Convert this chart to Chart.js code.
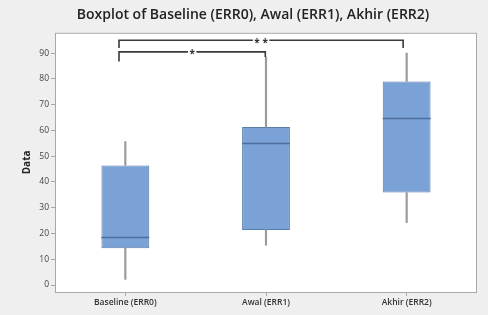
<!DOCTYPE html>
<html>
<head>
<meta charset="utf-8">
<script src="https://cdn.jsdelivr.net/npm/chart.js@4.4.1/dist/chart.umd.min.js"></script>
<style>
  html, body { margin: 0; padding: 0; background: #efefef; }
  #wrap { width: 488px; height: 315px; }
</style>
</head>
<body>
<div id="wrap"><canvas id="myChart"></canvas></div>
<script>
// values
var categories = ['Baseline (ERR0)', 'Awal (ERR1)', 'Akhir (ERR2)']
var whiskerLow = [2.2, 15.5, 24.2]
var q1 = [14.3, 21.4, 35.9]
var median = [18.8, 55.0, 64.8]
var q3 = [46.4, 61.3, 79.0]
var whiskerHigh = [55.7, 88.5, 90.0]

// significance brackets
var bracketFrom = [-0.045, -0.045]
var bracketTo = [1.975, 0.995]
var bracketY = [95.0, 90.5]
var bracketLeftEnd = [92.0, 86.8]
var bracketRightEnd = [92.0, 88.5]
var bracketLabel = ['* *', '*']

var boxPlugin = {
  id: 'boxExtras',
  beforeDraw: function(chart) {
    var ctx = chart.ctx, a = chart.chartArea
    ctx.save()
    ctx.fillStyle = '#efefef'
    ctx.fillRect(0, 0, chart.width, chart.height)
    ctx.fillStyle = '#ffffff'
    ctx.fillRect(a.left, a.top, a.right - a.left, a.bottom - a.top)
    ctx.strokeStyle = '#a8a8a8'
    ctx.lineWidth = 1
    ctx.strokeRect(a.left + 0.5, a.top + 0.5, a.right - a.left - 1, a.bottom - a.top)
    ctx.restore()
  },
  afterDatasetsDraw: function(chart) {
    var ctx = chart.ctx
    var x = chart.scales.x, y = chart.scales.y
    var meta = chart.getDatasetMeta(2)
    ctx.save()
    // medians
    ctx.strokeStyle = '#4d6d9c'
    ctx.lineWidth = 1.5
    meta.data.forEach(function(bar, i) {
      var py = Math.round(y.getPixelForValue(median[i])) + 0.5
      ctx.beginPath()
      ctx.moveTo(bar.x - bar.width / 2, py)
      ctx.lineTo(bar.x + bar.width / 2, py)
      ctx.stroke()
    })
    // brackets
    ctx.strokeStyle = '#3a3a3a'
    ctx.lineWidth = 1.6
    ctx.font = 'bold 10px "Open Sans"'
    ctx.textAlign = 'center'
    ctx.textBaseline = 'middle'
    bracketY.forEach(function(v, i) {
      var x0 = x.getPixelForValue(bracketFrom[i])
      var x1 = x.getPixelForValue(bracketTo[i])
      var py = y.getPixelForValue(v)
      ctx.beginPath()
      ctx.moveTo(x0, y.getPixelForValue(bracketLeftEnd[i]))
      ctx.lineTo(x0, py)
      ctx.lineTo(x1, py)
      ctx.lineTo(x1, y.getPixelForValue(bracketRightEnd[i]))
      ctx.stroke()
      var mid = (x0 + x1) / 2
      var w = ctx.measureText(bracketLabel[i]).width + 3
      ctx.fillStyle = '#ffffff'
      ctx.fillRect(mid - w / 2, py - 4, w, 8)
      ctx.fillStyle = '#333333'
      ctx.fillText(bracketLabel[i], mid, py + 2.5)
    })
    ctx.restore()
  }
}

document.addEventListener('DOMContentLoaded', function() {
  var ctx = document.getElementById('myChart').getContext('2d')
  var myChart = new Chart(ctx, {
    type: 'bar',
    data: {
      labels: categories,
      datasets: [{
        label: 'lower whisker',
        data: whiskerLow.map(function(v, i) { return [v, q1[i]] }),
        backgroundColor: '#9a9a9a',
        barThickness: 1.5,
        grouped: false
      }, {
        label: 'upper whisker',
        data: whiskerHigh.map(function(v, i) { return [q3[i], v] }),
        backgroundColor: '#9a9a9a',
        barThickness: 1.5,
        grouped: false
      }, {
        label: 'box',
        data: q1.map(function(v, i) { return [v, q3[i]] }),
        backgroundColor: '#7ba2d6',
        borderColor: '#5a7cab',
        borderWidth: 1,
        borderSkipped: false,
        barPercentage: 0.34,
        categoryPercentage: 1,
        grouped: false
      }]
    },
    options: {
      responsive: true,
      maintainAspectRatio: false,
      animation: false,
      devicePixelRatio: 1,
      layout: { padding: { left: 29, right: 11, top: 0, bottom: 0 } },
      plugins: {
        legend: { display: false },
        tooltip: { enabled: false },
        title: {
          display: true,
          text: 'Boxplot of Baseline (ERR0), Awal (ERR1), Akhir (ERR2)',
          color: '#222222',
          font: { family: '"Open Sans"', size: 14, weight: '600' },
          padding: { top: 7, bottom: 9 }
        }
      },
      scales: {
        x: {
          afterFit: function(scale) { scale.height = 23 },
          grid: { display: true, drawOnChartArea: false, offset: false, tickLength: 4, color: '#a8a8a8' },
          border: { display: false },
          ticks: { color: '#333333', padding: 1, font: { family: '"Open Sans"', size: 8.5, weight: '600' } }
        },
        y: {
          min: -2.7,
          max: 97.9,
          afterFit: function(scale) { scale.width = 26 },
          grid: { display: true, drawOnChartArea: false, tickLength: 4, color: '#a8a8a8' },
          border: { display: false },
          title: {
            display: true,
            text: 'Data',
            color: '#222222',
            font: { family: '"Open Sans"', size: 10, weight: 'bold' },
            padding: { top: -8, bottom: 0 }
          },
          ticks: {
            stepSize: 10,
            includeBounds: false,
            color: '#444444',
            padding: 2,
            font: { family: '"Open Sans"', size: 8.5 }
          }
        }
      }
    },
    plugins: [boxPlugin]
  })
})
</script>
</body>
</html>
